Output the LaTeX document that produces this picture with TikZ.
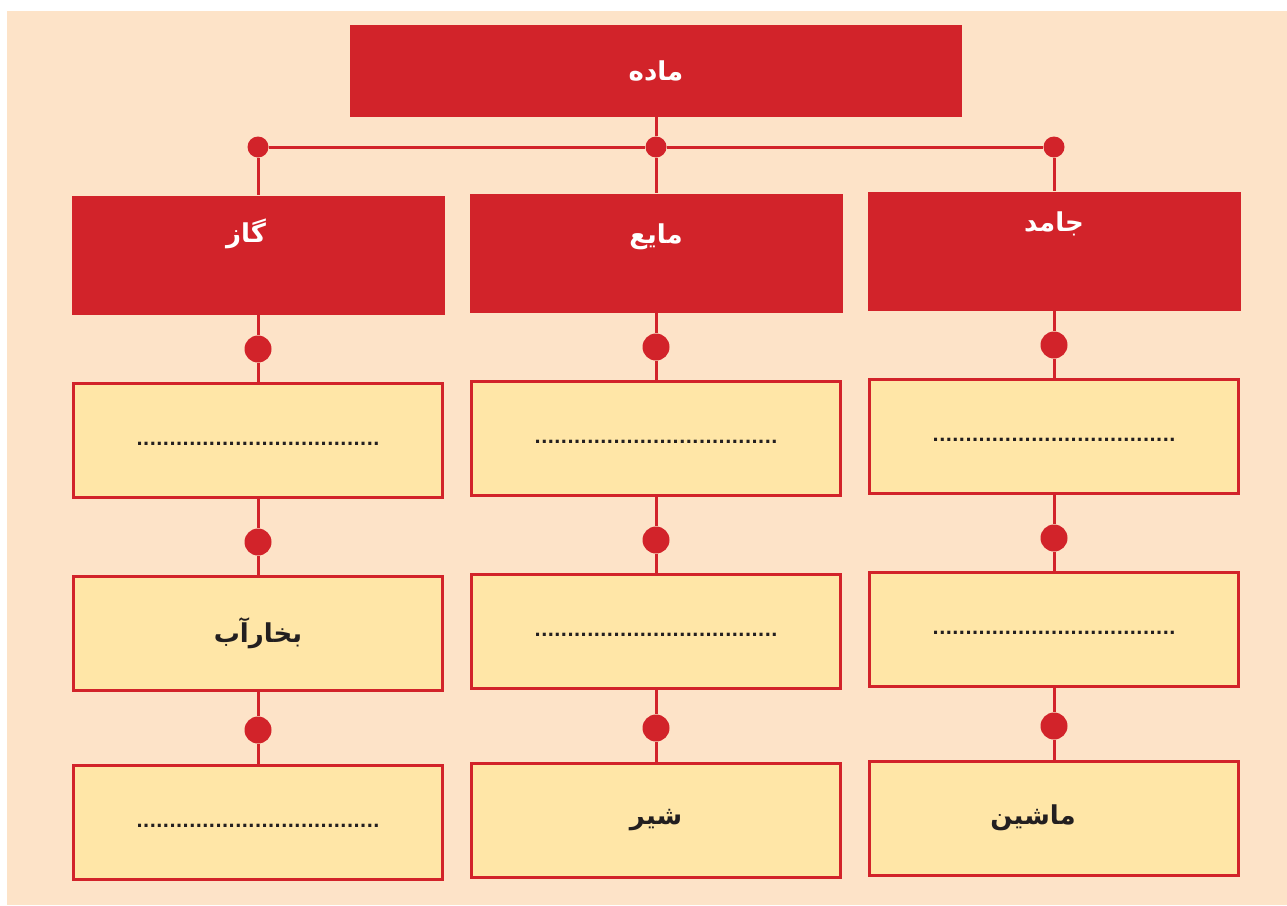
\documentclass[tikz,border=0pt]{standalone}
\usepackage{fontspec}
\newfontfamily\arabicfont[Script=Arabic]{DejaVu Sans}
\newfontfamily\dotfont{DejaVu Sans}
\TeXXeTstate=1
\definecolor{matred}{HTML}{D2232A}
\definecolor{peach}{HTML}{FDE3C8}
\definecolor{paleyellow}{HTML}{FFE6A7}
\definecolor{ink}{HTML}{231F20}

\begin{document}
\begin{tikzpicture}[x=1pt, y=-1pt,
    redbox/.style={rectangle, fill=matred, minimum width=373pt, minimum height=119pt, inner sep=0pt},
    cardbox/.style={rectangle, draw=matred, line width=3pt, fill=paleyellow, minimum width=369pt, minimum height=114pt, inner sep=0pt, text=ink, font=\arabicfont\bfseries\fontsize{26}{30}\selectfont},
    head/.style={text=white, font=\arabicfont\bfseries\fontsize{26}{30}\selectfont, anchor=center},
    blank/.style={font=\dotfont\bfseries\fontsize{17.3}{20}\selectfont, text height=11.6pt, text depth=0pt},
    point/.style={circle, fill=matred, minimum size=#1, inner sep=0pt},
    point/.default=27pt,
    link/.style={draw=matred, line width=3pt}]
          \fill[peach] (7,11) rectangle (1287,905);
          \useasboundingbox (0,0) rectangle (1287,905);
          \node[redbox, head](0) at (656,71) [minimum width=612pt, minimum height=92pt] {\beginR ماده\endR};
          \node[redbox](1) at (258,255) [label={[head,xshift=-12pt,yshift=-39pt]north:{\beginR گاز\endR}}] {};
          \node[redbox](2) at (656,253) [label={[head,yshift=-43pt]north:{\beginR مایع\endR}}] {};
          \node[redbox](3) at (1054,251) [label={[head,yshift=-33pt]north:{\beginR جامد\endR}}] {};
          \node[cardbox, blank](4)  at (258,440)  {.....................................};
          \node[cardbox](5)         at (258,633)  {\beginR بخارآب\endR};
          \node[cardbox, blank](6)  at (258,822)  {.....................................};
          \node[cardbox, blank](7)  at (656,438)  {.....................................};
          \node[cardbox, blank](8)  at (656,631)  {.....................................};
          \node[cardbox](9)         at (656,820)  {\beginR شیر\endR};
          \node[cardbox, blank](10) at (1054,436) {.....................................};
          \node[cardbox, blank](11) at (1054,629) {.....................................};
          \node[cardbox](12)        at (1054,818) [label={[text=ink, font=\arabicfont\bfseries\fontsize{26}{30}\selectfont, anchor=center, xshift=-21pt]center:{\beginR ماشین\endR}}] {};
          \node[point=21pt](d1)  at (258,147)  {};
          \node[point=21pt](d2)  at (656,147)  {};
          \node[point=21pt](d3)  at (1054,147) {};
          \node[point](d4)  at (258,349)  {};
          \node[point](d5)  at (258,542)  {};
          \node[point](d6)  at (258,730)  {};
          \node[point](d7)  at (656,347)  {};
          \node[point](d8)  at (656,540)  {};
          \node[point](d9)  at (656,728)  {};
          \node[point](d10) at (1054,345) {};
          \node[point](d11) at (1054,538) {};
          \node[point](d12) at (1054,726) {};
          \path[link]
            (0) edge (d2)
            (d1) edge (d2)
            (d2) edge (d3)
            (d1) edge (1)
            (d2) edge (2)
            (d3) edge (3)
            (1) edge (d4)
            (d4) edge (4)
            (4) edge (d5)
            (d5) edge (5)
            (5) edge (d6)
            (d6) edge (6)
            (2) edge (d7)
            (d7) edge (7)
            (7) edge (d8)
            (d8) edge (8)
            (8) edge (d9)
            (d9) edge (9)
            (3) edge (d10)
            (d10) edge (10)
            (10) edge (d11)
            (d11) edge (11)
            (11) edge (d12)
            (d12) edge (12)
            ;
        \end{tikzpicture}
\end{document}
